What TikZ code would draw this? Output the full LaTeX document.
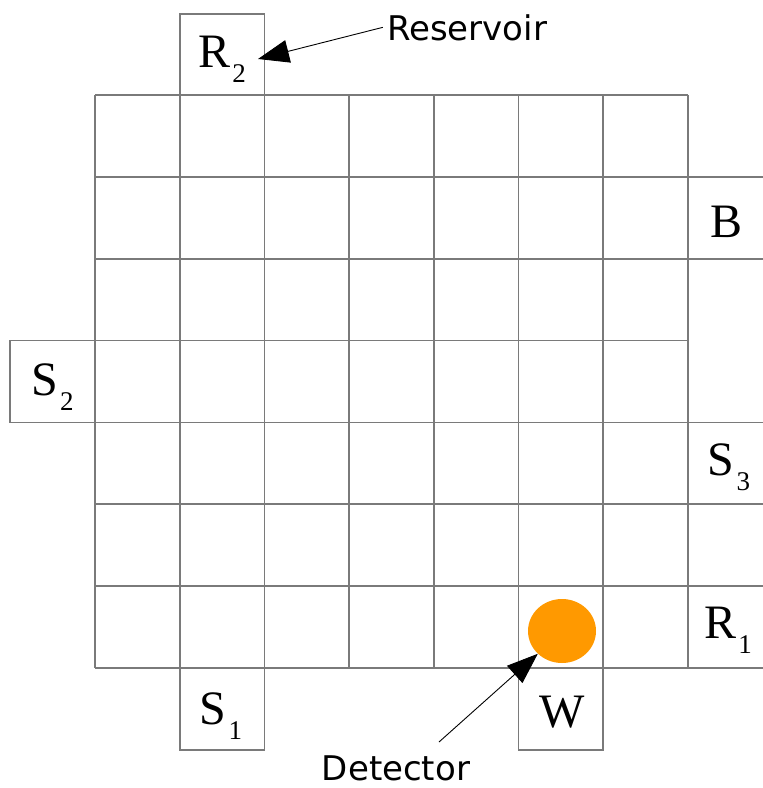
\documentclass[tikz,border=0pt]{standalone}
\usepackage{fontspec}
\setmainfont{Liberation Serif}
\newfontfamily\calloutfont{DejaVu Sans}
\usetikzlibrary{arrows.meta,shapes.geometric}
\definecolor{gridgray}{HTML}{7A7A7A}
\definecolor{detorange}{HTML}{FF9900}
% lowered index digit after a cell letter
\newcommand\cellsub[1]{\kern2pt\raisebox{-15pt}{\fontsize{27}{27}\selectfont #1}}
\begin{document}
\begin{tikzpicture}[x=1pt,y=-1pt,
  gridline/.style={draw=gridgray,line width=1.7pt},
  cellabel/.style={anchor=base,inner sep=0pt,font=\fontsize{48}{48}\selectfont},
  callout/.style={inner sep=1pt,font=\calloutfont\fontsize{34}{34}\selectfont},
  pointer/.style={draw=black,line width=0.9pt,-{Triangle[length=31pt,width=23pt]}},
  detector/.style={ellipse,fill=detorange,draw=none,minimum width=68pt,minimum height=64pt,inner sep=0pt}]
\useasboundingbox (0,0) rectangle (763,788);
\def\cw{84.714}
\def\ch{81.857}
% main 7 x 7 grid
\foreach \i in {0,...,7}{
  \draw[gridline] ({95+\i*\cw},95) -- ({95+\i*\cw},668);
  \draw[gridline] (95,{95+\i*\ch}) -- (688,{95+\i*\ch});
}
% cells outside the grid
\draw[gridline] ({95+\cw},95) -- ({95+\cw},14) -- ({95+2*\cw},14) -- ({95+2*\cw},95);
\draw[gridline] (95,{95+3*\ch}) -- (10,{95+3*\ch}) -- (10,{95+4*\ch}) -- (95,{95+4*\ch});
\draw[gridline] ({95+\cw},668) -- ({95+\cw},750) -- ({95+2*\cw},750) -- ({95+2*\cw},668);
\draw[gridline] ({95+5*\cw},668) -- ({95+5*\cw},750) -- ({95+6*\cw},750) -- ({95+6*\cw},668);
\foreach \j in {1,2,4,5,6,7}
  \draw[gridline] (688,{95+\j*\ch}) -- (763,{95+\j*\ch});
% cell labels
\node[cellabel] (r2) at (222,67) {R\cellsub{2}};
\node[cellabel] (b)  at (727,237) {B};
\node[cellabel] (s2) at (52.5,395) {S\cellsub{2}};
\node[cellabel] (s3) at (729,475) {S\cellsub{3}};
\node[cellabel] (r1) at (728,638) {R\cellsub{1}};
\node[cellabel] (s1) at (221,724) {S\cellsub{1}};
\node[cellabel] (w)  at (562,727) {W};
% detector
\node[detector] (dot) at (562,631) {};
% callouts
\node[callout,anchor=base] (res) at (467,40) {Reservoir};
\node[callout,anchor=base] (det) at (396,780) {Detector};
\coordinate (restip) at (258,59);
\coordinate (detfrom) at (439,742);
\draw[pointer] ([xshift=-3pt]res.west) -- (restip);
\draw[pointer] (detfrom) -- (dot.south west);
\end{tikzpicture}
\end{document}
